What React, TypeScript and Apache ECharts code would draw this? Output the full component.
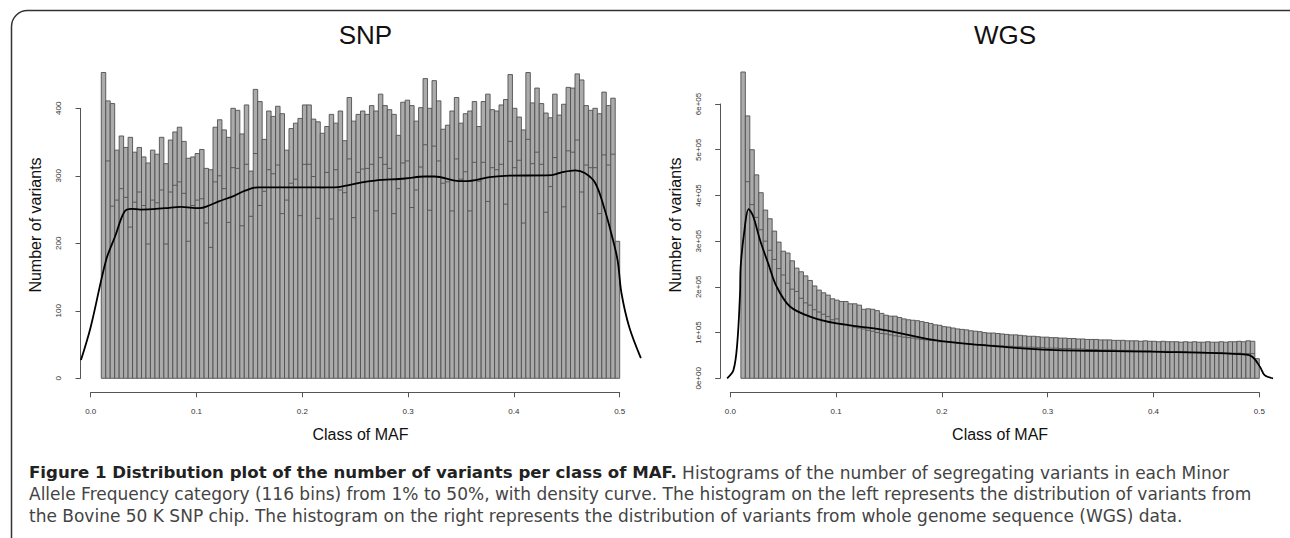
import React, { useEffect, useRef } from "react";
import * as echarts from "echarts";

// ---------- data ----------
const BIN_LO = 0.01;
const BIN_HI = 0.5;
const N_BINS = 116;

const SNP_COUNTS = [453,411,407,338,359,342,357,335,342,328,319,338,332,357,318,353,365,372,351,326,328,333,339,311,309,372,383,368,357,
400,397,362,405,307,428,410,354,396,388,403,392,338,370,378,385,405,405,384,380,363,373,391,378,396,352,416,381,391,
396,391,404,396,421,404,398,391,360,409,412,404,381,401,444,400,441,411,369,375,396,416,378,392,396,410,373,410,421,
398,396,405,413,450,400,387,368,453,408,430,407,393,386,421,390,406,431,430,451,442,404,397,400,392,424,404,415,203];

const SNP_INNER = [null,322,255,264,281,268,224,261,276,256,199,264,260,279,199,276,286,291,274,203,256,264,266,230,194,291,300,281,231,
312,311,226,317,240,333,256,277,309,303,316,244,264,289,295,241,317,317,299,237,282,305,236,309,279,275,325,238,305,
310,311,317,248,327,317,311,244,281,319,322,253,279,313,346,249,344,322,289,291,248,325,295,306,248,320,292,320,262,
312,309,317,258,351,312,323,230,354,318,335,317,246,284,327,304,254,337,335,353,276,316,312,312,244,331,316,332,null];

const SNP_DENSITY = [[-0.0092,27],[0,76],[0.0145,175],[0.023,210],[0.032,247],[0.0387,251],[0.047,250],[0.07,252],[0.085,254],[0.103,252],
[0.112,256],[0.121,262],[0.135,270],[0.146,278],[0.158,283],[0.18,283],[0.2,283],[0.231,283],[0.24,285],[0.255,290],[0.2687,293],
[0.297,296],[0.3159,299],[0.325,299],[0.344,293],[0.3538,292],[0.377,298],[0.3915,300],[0.4357,301],[0.445,305],[0.458,308],
[0.467,304],[0.477,289],[0.486,249],[0.492,215],[0.498,175],[0.5017,126],[0.509,76],[0.52,30]];

const WGS_COUNTS = [670000,574000,500000,445000,406000,368000,349000,322000,298000,278000,274000,257000,241000,233000,224000,214000,
202000,193000,187000,182000,174000,171000,168000,168000,163000,163000,160000,151000,152000,151000,148000,142000,138000,136000,
136000,133000,130000,128000,127000,126000,124000,122000,120000,117000,116000,113000,112000,110000,108000,107000,106000,104000,
103000,102000,100000,99000,99000,98000,97000,96000,95000,95000,94000,93000,92000,92000,91000,90000,90000,89000,89000,88000,
88000,87000,87000,86000,86000,85000,85000,85000,84000,84000,84000,83000,83000,83000,82000,82000,82000,81000,82000,81000,81000,
80000,81000,80000,80000,80000,79000,80000,79000,80000,79000,79000,80000,79000,79000,80000,79000,80000,80000,81000,80000,82000,81000,43000];

const WGS_INNER = [null,430000,380000,352000,325000,300000,280000,260000,240000,226000,208000,195000,190000,175000,165000,160000,
150000,145000,140000,135000,128000,130000,120000,118000,115000,112000,110000,108000,105000,103000,100000,98000,97000,95000,
93000,92000,90000,89000,88000,86000,85000,84000,83000,82000,80000,80000,79000,78000,77000,76000,76000,75000,74000,74000,
73000,72000,72000,71000,71000,70000,70000,69000,69000,68000,68000,68000,67000,67000,66000,66000,66000,65000,65000,65000,
64000,64000,64000,63000,63000,63000,62000,62000,62000,62000,61000,61000,61000,61000,60000,60000,60000,60000,59000,59000,
59000,59000,58000,58000,58000,58000,57000,57000,57000,57000,56000,56000,56000,56000,55000,55000,55000,55000,54000,54000,54000,null];

const WGS_DENSITY = [[-0.003,0],[0.003,18000],[0.0066,77000],[0.0092,186000],[0.0098,244000],[0.013,317000],[0.0174,370000],
[0.0217,354000],[0.028,303000],[0.036,250000],[0.0439,200000],[0.0564,157000],[0.0753,135000],[0.1006,120000],[0.1446,106000],
[0.1919,84000],[0.236,73000],[0.302,62000],[0.406,58000],[0.488,52000],[0.494,46000],[0.5007,25000],[0.505,7000],[0.513,0]];

const X_TICKS = [0, 0.1, 0.2, 0.3, 0.4, 0.5];
const SNP_Y_TICKS = [0, 100, 200, 300, 400];
const WGS_Y_TICK_LABELS = ["0e+00", "1e+05", "2e+05", "3e+05", "4e+05", "5e+05", "6e+05"];

const TITLES = ["SNP", "WGS"];
const X_NAME = "Class of MAF";
const Y_NAME = "Number of variants";

const CAPTION_BOLD = "Figure 1 Distribution plot of the number of variants per class of MAF.";
const CAPTION_LINES = [
  " Histograms of the number of segregating variants in each Minor",
  "Allele Frequency category (116 bins) from 1% to 50%, with density curve. The histogram on the left represents the distribution of variants from",
  "the Bovine 50 K SNP chip. The histogram on the right represents the distribution of variants from whole genome sequence (WGS) data.",
];

// ---------- layout ----------
const FONT = "'Liberation Sans', Arial, sans-serif";
const PX_PER_X = 1058; // pixels per 1.0 of MAF
const X_LO = -0.0096;
const X_HI = 0.5196;
const REGION_TOP = 57.7;
const REGION_BOTTOM = 392.3;
const Y_ZERO_PX = 378.3;

const PANELS = [
  { xZeroPx: 90.7, yTopVal: 400, yTopPx: 108.3, interval: 100 },
  { xZeroPx: 730.3, yTopVal: 600000, yTopPx: 104, interval: 100000 },
];

function binData(counts: number[], inner: (number | null)[]) {
  const w = (BIN_HI - BIN_LO) / N_BINS;
  return counts.map((c, i) => [BIN_LO + i * w, BIN_LO + (i + 1) * w, c, inner[i] == null ? "-" : inner[i]]);
}

function renderBar(params: any, api: any) {
  const x0 = api.value(0);
  const x1 = api.value(1);
  const top = api.value(2);
  const inner = api.value(3);
  const p0 = api.coord([x0, 0]);
  const p1 = api.coord([x1, top]);
  const children: any[] = [
    {
      type: "rect",
      shape: { x: p0[0], y: p1[1], width: p1[0] - p0[0], height: p0[1] - p1[1] },
      style: { fill: "#ababab", stroke: "#505050", lineWidth: 0.9 },
    },
  ];
  if (!isNaN(inner)) {
    const pi = api.coord([x0, inner]);
    children.push({
      type: "line",
      shape: { x1: p0[0], y1: pi[1], x2: p1[0], y2: pi[1] },
      style: { stroke: "#505050", lineWidth: 0.9 },
    });
  }
  return { type: "group", children };
}

export default function App() {
  const ref = useRef<HTMLDivElement>(null);
  useEffect(() => {
    if (!ref.current) return;
    const chart = echarts.init(ref.current, undefined, { renderer: "svg" });
    const grid: any[] = [];
    const xAxis: any[] = [];
    const yAxis: any[] = [];
    const series: any[] = [];
    const title: any[] = [];

    PANELS.forEach((p, k) => {
      const pxPerY = (Y_ZERO_PX - p.yTopPx) / p.yTopVal;
      const regionLeft = p.xZeroPx + X_LO * PX_PER_X;
      const regionWidth = (X_HI - X_LO) * PX_PER_X;
      const yMax = (Y_ZERO_PX - REGION_TOP) / pxPerY;
      const yMin = (Y_ZERO_PX - REGION_BOTTOM) / pxPerY;
      const g = grid.length;
      grid.push({ left: regionLeft, top: REGION_TOP, width: regionWidth, height: REGION_BOTTOM - REGION_TOP });
      grid.push({ left: p.xZeroPx, top: REGION_BOTTOM - 1, width: 0.5 * PX_PER_X, height: 1 });
      grid.push({ left: regionLeft, top: p.yTopPx, width: 10, height: Y_ZERO_PX - p.yTopPx });

      xAxis.push({
        gridIndex: g, type: "value", min: X_LO, max: X_HI,
        axisLine: { show: false }, axisTick: { show: false }, axisLabel: { show: false }, splitLine: { show: false },
        name: X_NAME, nameLocation: "middle", nameGap: 34,
        nameTextStyle: { fontFamily: FONT, fontSize: 16, color: "#111" },
      });
      yAxis.push({
        gridIndex: g, type: "value", min: yMin, max: yMax,
        axisLine: { show: false }, axisTick: { show: false }, axisLabel: { show: false }, splitLine: { show: false },
        name: Y_NAME, nameLocation: "middle", nameGap: 37,
        nameTextStyle: { fontFamily: FONT, fontSize: 16, color: "#111" },
      });
      xAxis.push({
        gridIndex: g + 1, type: "value", min: 0, max: 0.5, interval: 0.1, position: "bottom",
        axisLine: { show: true, lineStyle: { color: "#555", width: 1 } },
        axisTick: { show: true, length: 5, lineStyle: { color: "#555" } },
        axisLabel: {
          fontFamily: FONT, fontSize: 8, color: "#333", margin: 15,
          formatter: (v: number) => {
            const i = X_TICKS.findIndex((t) => Math.abs(t - v) < 1e-9);
            return i >= 0 ? X_TICKS[i].toFixed(1) : "";
          },
        },
        splitLine: { show: false },
      });
      yAxis.push({ gridIndex: g + 1, type: "value", show: false, min: 0, max: 1 });
      xAxis.push({ gridIndex: g + 2, type: "value", show: false, min: 0, max: 1 });
      yAxis.push({
        gridIndex: g + 2, type: "value", min: 0, max: p.yTopVal, interval: p.interval, position: "left",
        axisLine: { show: true, lineStyle: { color: "#555", width: 1 } },
        axisTick: { show: true, length: 5, lineStyle: { color: "#555" } },
        axisLabel: {
          fontFamily: FONT, fontSize: 8, color: "#333", rotate: 90, margin: 18,
          formatter: (v: number) => {
            if (k === 0) return String(SNP_Y_TICKS.find((t) => t === v) ?? "");
            return WGS_Y_TICK_LABELS[Math.round(v / p.interval)] ?? "";
          },
        },
        splitLine: { show: false },
      });

      const counts = k === 0 ? SNP_COUNTS : WGS_COUNTS;
      const inner = k === 0 ? SNP_INNER : WGS_INNER;
      const dens = k === 0 ? SNP_DENSITY : WGS_DENSITY;
      series.push({
        type: "custom", xAxisIndex: g === 0 ? 0 : 3, yAxisIndex: g === 0 ? 0 : 3,
        renderItem: renderBar, data: binData(counts, inner as any), clip: false,
        encode: { x: [0, 1], y: [2] },
      });
      series.push({
        type: "line", xAxisIndex: g === 0 ? 0 : 3, yAxisIndex: g === 0 ? 0 : 3,
        data: dens, smooth: 0.35, showSymbol: false, symbol: "none",
        lineStyle: { color: "#000", width: 1.8 }, clip: true, z: 5,
      });
      title.push({
        text: TITLES[k], left: regionLeft + regionWidth / 2, top: 17, textAlign: "center",
        textStyle: { fontFamily: FONT, fontSize: 26, fontWeight: "normal", color: "#111" },
      });
    });

    const capFont = "'DejaVu Sans', sans-serif";
    const CAP_SIZE = 17.0;
    const CAP_LH = 21.5;
    const graphic: any[] = [
      {
        type: "rect", left: 9, top: 8, silent: true,
        shape: { x: 0, y: 0, width: 1293, height: 560, r: 16 },
        style: { fill: "none", stroke: "#333", lineWidth: 1.5 },
      },
      {
        type: "text", left: 29, top: 464,
        style: {
          text:
            "{b|" + CAPTION_BOLD + "}{n|" + CAPTION_LINES[0] + "}\n{n|" + CAPTION_LINES[1] + "}\n{n|" + CAPTION_LINES[2] + "}",
          rich: {
            b: { fontFamily: capFont, fontSize: 16.6, fontWeight: "bold", fill: "#222", lineHeight: CAP_LH },
            n: { fontFamily: capFont, fontSize: CAP_SIZE, fill: "#444", lineHeight: CAP_LH },
          },
        },
      },
    ];

    chart.setOption({ animation: false, backgroundColor: "#fff", grid, xAxis, yAxis, series, title, graphic });
    return () => chart.dispose();
  }, []);
  return <div ref={ref} style={{ position: "fixed", left: 0, top: 0, width: 1290, height: 538 }} />;
}
